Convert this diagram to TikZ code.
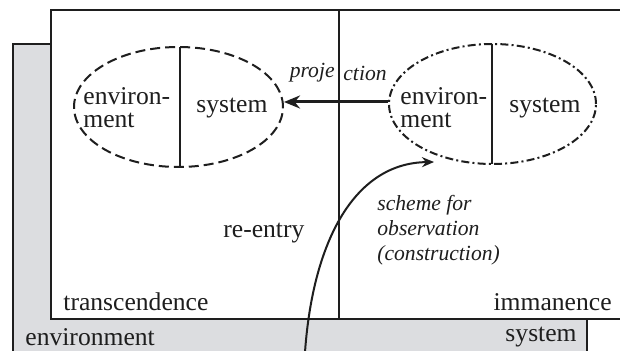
\documentclass[tikz,border=0pt]{standalone}
\usepackage{fontspec}
\setmainfont{Liberation Serif}
\usetikzlibrary{shapes.geometric,arrows.meta,calc}
\definecolor{panelgray}{RGB}{220,221,224}
\definecolor{ink}{RGB}{30,30,30}
\begin{document}
\begin{tikzpicture}[x=0.5pt,y=-0.5pt,
  frame/.style={draw=ink,line width=0.8pt},
  lab/.style={inner sep=0pt,font=\fontsize{12.8}{11.5}\selectfont,text=ink},
  ilab/.style={inner sep=0pt,font=\fontsize{10.8}{12.5}\selectfont\itshape,text=ink},
  dashell/.style={draw=ink,ellipse,inner sep=0pt,line width=1pt,dash pattern=on 5pt off 2.5pt},
  dotell/.style={draw=ink,ellipse,inner sep=0pt,line width=1pt,dash pattern=on 4pt off 1.6pt on 1pt off 1.6pt},
  divider/.style={draw=ink,line width=1pt}]
\useasboundingbox (0,0) rectangle (620,351);
\clip (0,0) rectangle (620,351);
% gray outer panel
\path[frame,fill=panelgray] (13,44) rectangle (587,360);
% white inner panel
\path[frame,fill=white] (51,10) rectangle (630,319);
% divider between transcendence and immanence
\coordinate (dtop) at (339,10);
\coordinate (dbot) at (339,319);
\draw[frame] (dtop) -- (dbot);
% ellipses
\node[dashell,minimum width=104.5pt,minimum height=60pt] (le) at (178.5,107) {};
\node[dotell,minimum width=103.5pt,minimum height=60pt] (re) at (492.5,104) {};
\draw[divider] (180,47) -- (180,167);
\draw[divider] (492,44) -- (492,164);
% ellipse texts
\node[lab,anchor=west,align=left] (lenv) at (83,108) {environ-\\ment};
\node[lab,anchor=west] (lsys) at (196,108) {system};
\node[lab,anchor=west,align=left] (renv) at (400,108) {environ-\\ment};
\node[lab,anchor=west] (rsys) at (509,108) {system};
% projection arrow
\coordinate (a1) at ($(re.west)+(0,-2)$);
\draw[draw=ink,line width=1.5pt,-{Stealth[length=8pt,width=6.5pt]}] (a1) -- (a1 -| le.east);
\node[ilab,anchor=east] (proj1) at (335,73) {proje};
\node[ilab,anchor=west] (proj2) at (343,73) {ction};
% re-entry curve
\coordinate (cb) at (305,352);
\coordinate (ct) at (434,162);
\draw[draw=ink,line width=1pt,-{Stealth[length=6pt,width=5pt]}] (cb) .. controls (313,240) and (355,163) .. (ct);
% labels
\node[lab,anchor=west] (reentry) at (223,233) {re-entry};
\node[ilab,anchor=west,align=left] (scheme) at (377,230) {scheme for\\observation\\(construction)};
\node[lab,anchor=west] (trans) at (63,302) {transcendence};
\node[lab,anchor=east] (imm) at (612,302) {immanence};
\node[lab,anchor=west] (genv) at (25,337) {environment};
\node[lab,anchor=east] (gsys) at (577,337) {system};
\end{tikzpicture}
\end{document}
